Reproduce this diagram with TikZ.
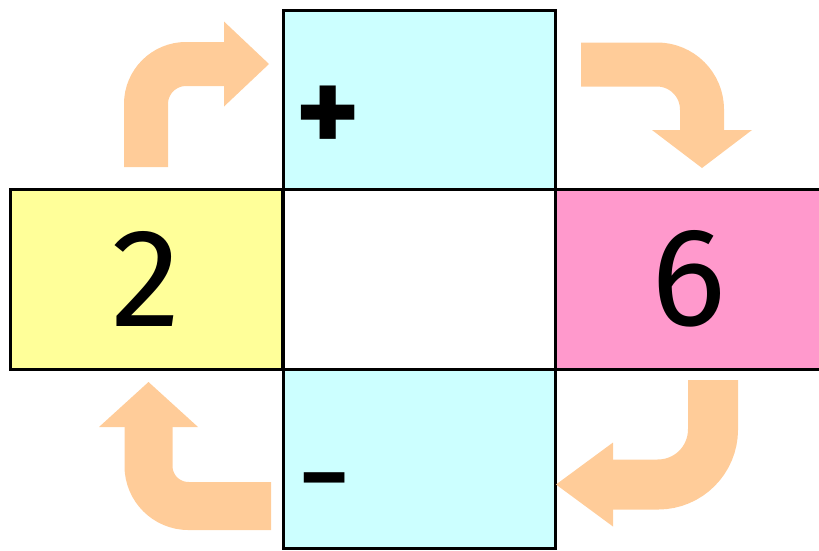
\documentclass[tikz,border=0pt]{standalone}
\usepackage{fontspec}
\setmainfont{Fira Sans}
\usetikzlibrary{arrows.meta}
\definecolor{ink}{HTML}{000000}
\definecolor{signfill}{HTML}{CCFFFF}
\definecolor{leftfill}{HTML}{FFFF99}
\definecolor{rightfill}{HTML}{FF99CC}
\definecolor{flowcol}{HTML}{FFCC99}

\begin{document}
\begin{tikzpicture}[
  x=1pt, y=-1pt,
  text=ink,
  cell/.style={
    draw=ink,
    line width=3pt,
    inner sep=0pt,
    outer sep=0pt,
    minimum width=272pt,
    minimum height=180pt
  },
  digit/.style={cell, font=\fontsize{140}{140}\selectfont},
  sign/.style={font=\fontsize{123}{123}\selectfont\bfseries, inner sep=0pt, anchor=west},
  flow/.style={draw=flowcol, rounded corners=40pt}
]
\useasboundingbox (0,0) rectangle (819,550);

% Cross of cells
\node[cell, fill=white] (middle) at (419,279) {};
\node[digit, fill=leftfill] (two) at (146.5,279) {2};
\node[digit, fill=rightfill, minimum width=267pt] (six) at (688.5,279) {6};
\node[cell, fill=signfill, minimum height=179pt] (plusbox) at (419,99.5) {};
\node[cell, fill=signfill, minimum height=179pt] (minusbox) at (419,458.5) {};

\node[sign] (plus) at ([xshift=12pt,yshift=-20pt]plusbox.west) {+};
\node[sign, font=\fontsize{85}{85}\selectfont\bfseries] (minus) at ([xshift=19pt,yshift=-30.5pt]minusbox.west) {–};

% Bent arrows round the cross
\coordinate (a1s) at (146,167);
\coordinate (a1c) at (146,64);
\coordinate (a1e) at (269,64);
\coordinate (a2s) at (581,64.5);
\coordinate (a2c) at (702,64.5);
\coordinate (a2e) at (702,168);
\coordinate (a3s) at (713,380);
\coordinate (a3c) at (713,484.5);
\coordinate (a3e) at (556,484.5);
\coordinate (a4s) at (271,506);
\coordinate (a4c) at (148.5,506);
\coordinate (a4e) at (148.5,382);

\draw[flow, line width=44pt, -{Triangle[length=45pt,width=85pt,line width=0pt]}] (a1s) -- (a1c) -- (a1e);
\draw[flow, line width=44pt, rounded corners=45pt, -{Triangle[length=38pt,width=100pt,line width=0pt]}] (a2s) -- (a2c) -- (a2e);
\draw[flow, line width=50pt, rounded corners=55pt, -{Triangle[length=57pt,width=84pt,line width=0pt]}] (a3s) -- (a3c) -- (a3e);
\draw[flow, line width=48pt, -{Triangle[length=45pt,width=99pt,line width=0pt]}] (a4s) -- (a4c) -- (a4e);

\end{tikzpicture}
\end{document}
